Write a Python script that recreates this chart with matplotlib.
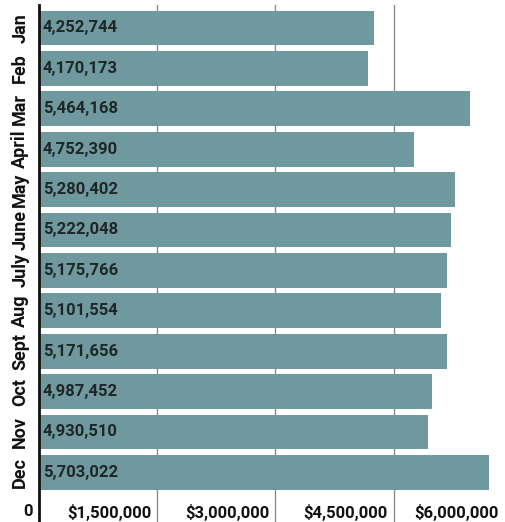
import matplotlib
matplotlib.use("Agg")
import matplotlib.pyplot as plt
import matplotlib.transforms as mtransforms

months = ["Jan", "Feb", "Mar", "April", "May", "June", "July", "Aug", "Sept", "Oct", "Nov", "Dec"]
values = [4252744, 4170173, 5464168, 4752390, 5280402, 5222048, 5175766, 5101554, 5171656, 4987452, 4930510, 5703022]
xticks = [0, 1500000, 3000000, 4500000, 6000000]
xtick_labels = ["0", "$1,500,000", "$3,000,000", "$4,500,000", "$6,000,000"]

plt.rcParams['font.family'] = ['Roboto', 'DejaVu Sans']

W, H = 506, 522
fig = plt.figure(figsize=(W / 100, H / 100), dpi=100)
ax = fig.add_axes([39 / W, 0, (512 - 39) / W, (H - 5) / H])

bar_color = '#6f999e'
y = list(range(len(months)))
ax.barh(y, values, height=0.865, color=bar_color, zorder=2)

ax.set_xlim(0, 6000000)
ax.set_ylim(12.228, -0.569)

for i, v in enumerate(values):
    ax.annotate(f"{v:,}", xy=(0, i), xytext=(4, 0), textcoords='offset pixels',
                ha='left', va='center', fontsize=12, fontweight='bold', color='#1e2626', zorder=3)

ax.set_yticks(y)
ax.set_yticklabels(months, rotation=90, fontsize=13, fontweight='bold', color='#111111', va='center')
ax.tick_params(axis='y', length=0, pad=7)

ax.set_xticks(xticks)
ax.set_xticklabels(xtick_labels, fontsize=12, fontweight='bold', color='#111111')
ax.tick_params(axis='x', length=0, pad=-13)
labels = ax.get_xticklabels()
for k, lab in enumerate(labels):
    lab.set_ha('right')
    dx = -6 if k < len(labels) - 1 else -13
    lab.set_transform(lab.get_transform() + mtransforms.ScaledTranslation(dx / 100, 0, fig.dpi_scale_trans))

ax.grid(axis='x', color='#8a8a8a', linewidth=1, zorder=1)
ax.grid(axis='y', visible=False)
for s in ['top', 'right', 'bottom']:
    ax.spines[s].set_visible(False)
ax.spines['left'].set_color('#111111')
ax.spines['left'].set_linewidth(2)
ax.set_axisbelow(True)

fig.savefig("out.png", dpi=100)
